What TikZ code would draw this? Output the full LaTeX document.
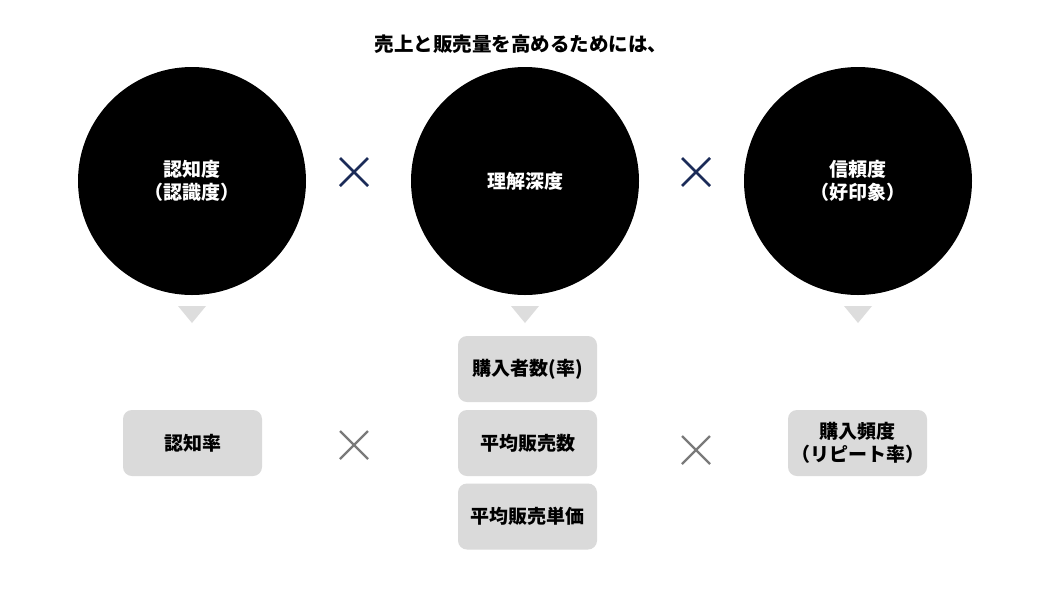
\documentclass[tikz,border=0pt]{standalone}
\usepackage{fontspec}
\usetikzlibrary{calc}
\setmainfont{Noto Sans CJK JP}
\begin{document}
\begin{tikzpicture}[x=1pt,y=-1pt,
  big/.style={circle,fill=black,minimum size=228pt,inner sep=0pt,text=white,font=\fontsize{19}{22.5}\selectfont\bfseries,align=center},
  gbox/.style={rounded corners=9pt,fill=boxgray,minimum width=139pt,minimum height=66pt,inner sep=0pt,font=\fontsize{19}{22.5}\selectfont\bfseries,align=center},
  tri/.style={fill=trigray},
  navyx/.style={draw=navy,line width=2.6pt},
  grayx/.style={draw=xgray,line width=2.2pt}]
\definecolor{navy}{HTML}{1B2B58}
\definecolor{boxgray}{HTML}{DADADA}
\definecolor{trigray}{HTML}{DDDDDD}
\definecolor{xgray}{HTML}{7A7A7A}
\useasboundingbox (0,0) rectangle (1050,590);
\fill[white] (0,0) rectangle (1050,590);
\node[font=\fontsize{19.5}{22}\selectfont\bfseries] (title) at (521,44) {売上と販売量を高めるためには、};
\node[big] (c1) at (192,181) {認知度\\（認識度）};
\node[big] (c2) at (525,181) {理解深度};
\node[big] (c3) at (858,181) {信頼度\\（好印象）};
% navy crosses
\coordinate (x1) at (354,172);
\coordinate (x2) at (696,172);
\foreach \p in {x1,x2}{
  \draw[navyx] ($(\p)+(-14,-14)$) -- ($(\p)+(14,14)$);
  \draw[navyx] ($(\p)+(-14,14)$) -- ($(\p)+(14,-14)$);
}
% triangles
\foreach \xx/\n in {192/t1,525/t2,858/t3}{
  \coordinate (\n) at (\xx,306);
  \fill[tri] ($(\n)+(-14,0)$) -- ($(\n)+(14,0)$) -- ($(\n)+(0,17)$) -- cycle;
}
% boxes
\node[gbox] (b1) at (192.5,443) {認知率};
\node[gbox] (m1) at (527.5,369) {購入者数(率)};
\node[gbox] (m2) at (527.5,443) {平均販売数};
\node[gbox] (m3) at (527.5,516.5) {平均販売単価};
\node[gbox] (b3) at (857.5,443) {購入頻度\\（リピート率）};
% gray crosses
\coordinate (g1) at (354,445);
\coordinate (g2) at (696,450);
\foreach \p in {g1,g2}{
  \draw[grayx] ($(\p)+(-14,-14)$) -- ($(\p)+(14,14)$);
  \draw[grayx] ($(\p)+(-14,14)$) -- ($(\p)+(14,-14)$);
}
\end{tikzpicture}
\end{document}
